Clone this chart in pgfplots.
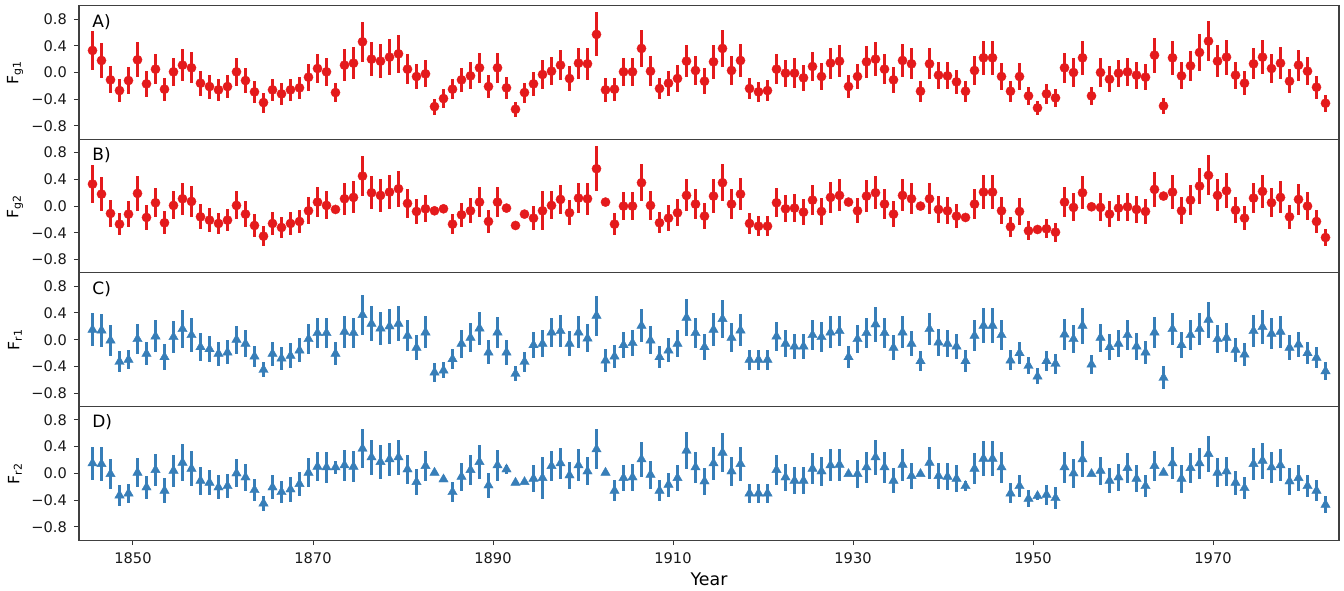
\documentclass[border=0pt]{standalone}
\usepackage{pgfplots}
\pgfplotsset{compat=1.18}
\usepackage{pgfplotstable}
\usepackage{fontspec}
\setmainfont{DejaVu Sans}
\definecolor{cred}{HTML}{E41A1C}
\definecolor{cblue}{HTML}{377EB8}

\pgfplotstableread{
x y e
1845.5 0.33 0.29
1846.5 0.18 0.26
1847.5 -0.11 0.20
1848.5 -0.27 0.17
1849.5 -0.12 0.20
1850.5 0.19 0.26
1851.5 -0.17 0.19
1852.5 0.05 0.22
1853.5 -0.25 0.17
1854.5 0.01 0.21
1855.5 0.11 0.24
1856.5 0.07 0.23
1857.5 -0.16 0.19
1858.5 -0.21 0.18
1859.5 -0.26 0.16
1860.5 -0.21 0.17
1861.5 0.01 0.21
1862.5 -0.12 0.19
1863.5 -0.29 0.17
1864.5 -0.45 0.15
1865.5 -0.26 0.17
1866.5 -0.32 0.16
1867.5 -0.26 0.17
1868.5 -0.23 0.17
1869.5 -0.07 0.20
1870.5 0.06 0.22
1871.5 0.01 0.21
1872.5 -0.30 0.14
1873.5 0.11 0.24
1874.5 0.14 0.24
1875.5 0.46 0.30
1876.5 0.20 0.25
1877.5 0.17 0.25
1878.5 0.23 0.27
1879.5 0.28 0.28
1880.5 0.05 0.22
1881.5 -0.06 0.19
1882.5 -0.02 0.20
1883.5 -0.51 0.12
1884.5 -0.39 0.14
1885.5 -0.25 0.15
1886.5 -0.11 0.18
1887.5 -0.05 0.20
1888.5 0.07 0.22
1889.5 -0.21 0.17
1890.5 0.07 0.22
1891.5 -0.23 0.16
1892.5 -0.55 0.11
1893.5 -0.30 0.15
1894.5 -0.17 0.18
1895.5 -0.03 0.21
1896.5 0.02 0.21
1897.5 0.11 0.22
1898.5 -0.09 0.19
1899.5 0.14 0.23
1900.5 0.13 0.24
1901.5 0.57 0.33
1902.5 -0.26 0.18
1903.5 -0.25 0.17
1904.5 0.01 0.21
1905.5 0.01 0.21
1906.5 0.36 0.28
1907.5 0.02 0.22
1908.5 -0.24 0.16
1909.5 -0.16 0.19
1910.5 -0.09 0.20
1911.5 0.17 0.24
1912.5 0.03 0.22
1913.5 -0.13 0.19
1914.5 0.16 0.25
1915.5 0.36 0.28
1916.5 0.03 0.22
1917.5 0.18 0.25
1918.5 -0.24 0.16
1919.5 -0.29 0.15
1920.5 -0.27 0.16
1921.5 0.05 0.22
1922.5 -0.01 0.20
1923.5 -0.01 0.22
1924.5 -0.08 0.19
1925.5 0.09 0.22
1926.5 -0.06 0.20
1927.5 0.14 0.23
1928.5 0.17 0.24
1929.5 -0.21 0.17
1930.5 -0.06 0.19
1931.5 0.16 0.24
1932.5 0.20 0.25
1933.5 0.05 0.22
1934.5 -0.11 0.19
1935.5 0.18 0.24
1936.5 0.13 0.23
1937.5 -0.28 0.16
1938.5 0.13 0.23
1939.5 -0.04 0.20
1940.5 -0.05 0.20
1941.5 -0.14 0.18
1942.5 -0.28 0.16
1943.5 0.03 0.22
1944.5 0.22 0.25
1945.5 0.22 0.25
1946.5 -0.06 0.20
1947.5 -0.28 0.16
1948.5 -0.06 0.20
1949.5 -0.35 0.14
1950.5 -0.53 0.11
1951.5 -0.32 0.15
1952.5 -0.38 0.14
1953.5 0.07 0.22
1954.5 0.00 0.21
1955.5 0.22 0.25
1956.5 -0.35 0.14
1957.5 0.00 0.21
1958.5 -0.10 0.19
1959.5 -0.01 0.20
1960.5 0.01 0.21
1961.5 -0.04 0.20
1962.5 -0.07 0.19
1963.5 0.26 0.26
1964.5 -0.50 0.12
1965.5 0.22 0.25
1966.5 -0.05 0.20
1967.5 0.10 0.22
1968.5 0.30 0.27
1969.5 0.47 0.30
1970.5 0.17 0.24
1971.5 0.23 0.26
1972.5 -0.04 0.20
1973.5 -0.16 0.18
1974.5 0.13 0.23
1975.5 0.23 0.25
1976.5 0.06 0.22
1977.5 0.14 0.24
1978.5 -0.13 0.18
1979.5 0.11 0.23
1980.5 0.02 0.21
1981.5 -0.22 0.17
1982.5 -0.46 0.13
}\tabA

\pgfplotstableread{
x y e
1845.5 0.33 0.29
1846.5 0.18 0.26
1847.5 -0.11 0.20
1848.5 -0.27 0.17
1849.5 -0.12 0.20
1850.5 0.19 0.26
1851.5 -0.17 0.19
1852.5 0.05 0.22
1853.5 -0.25 0.17
1854.5 0.01 0.21
1855.5 0.11 0.24
1856.5 0.07 0.23
1857.5 -0.16 0.19
1858.5 -0.21 0.18
1859.5 -0.26 0.16
1860.5 -0.21 0.17
1861.5 0.01 0.21
1862.5 -0.12 0.19
1863.5 -0.29 0.17
1864.5 -0.45 0.15
1865.5 -0.26 0.17
1866.5 -0.32 0.16
1867.5 -0.26 0.17
1868.5 -0.23 0.17
1869.5 -0.07 0.20
1870.5 0.06 0.22
1871.5 0.01 0.21
1872.5 -0.05 0
1873.5 0.11 0.24
1874.5 0.13 0.24
1875.5 0.45 0.30
1876.5 0.20 0.25
1877.5 0.16 0.25
1878.5 0.21 0.26
1879.5 0.26 0.27
1880.5 0.04 0.22
1881.5 -0.08 0.19
1882.5 -0.04 0.20
1883.5 -0.07 0
1884.5 -0.04 0
1885.5 -0.27 0.15
1886.5 -0.13 0.18
1887.5 -0.07 0.19
1888.5 0.06 0.22
1889.5 -0.23 0.17
1890.5 0.06 0.22
1891.5 -0.03 0
1892.5 -0.29 0
1893.5 -0.12 0
1894.5 -0.18 0.18
1895.5 -0.07 0.29
1896.5 0.01 0.21
1897.5 0.10 0.22
1898.5 -0.10 0.19
1899.5 0.12 0.23
1900.5 0.11 0.24
1901.5 0.56 0.34
1902.5 0.06 0
1903.5 -0.27 0.16
1904.5 0.00 0.21
1905.5 0.00 0.21
1906.5 0.35 0.28
1907.5 0.01 0.22
1908.5 -0.25 0.16
1909.5 -0.18 0.19
1910.5 -0.10 0.20
1911.5 0.16 0.24
1912.5 0.03 0.22
1913.5 -0.15 0.19
1914.5 0.15 0.25
1915.5 0.35 0.28
1916.5 0.03 0.22
1917.5 0.18 0.24
1918.5 -0.26 0.16
1919.5 -0.30 0.15
1920.5 -0.30 0.15
1921.5 0.05 0.22
1922.5 -0.04 0.20
1923.5 -0.03 0.21
1924.5 -0.09 0.19
1925.5 0.09 0.22
1926.5 -0.08 0.20
1927.5 0.13 0.23
1928.5 0.16 0.24
1929.5 0.06 0
1930.5 -0.07 0.19
1931.5 0.15 0.24
1932.5 0.20 0.25
1933.5 0.03 0.22
1934.5 -0.12 0.19
1935.5 0.16 0.24
1936.5 0.11 0.23
1937.5 0.00 0
1938.5 0.11 0.23
1939.5 -0.05 0.20
1940.5 -0.07 0.20
1941.5 -0.15 0.18
1942.5 -0.17 0
1943.5 0.03 0.22
1944.5 0.21 0.25
1945.5 0.21 0.25
1946.5 -0.07 0.20
1947.5 -0.31 0.15
1948.5 -0.08 0.20
1949.5 -0.37 0.14
1950.5 -0.35 0
1951.5 -0.34 0.14
1952.5 -0.39 0.14
1953.5 0.06 0.22
1954.5 -0.02 0.21
1955.5 0.20 0.25
1956.5 -0.01 0
1957.5 -0.02 0.21
1958.5 -0.12 0.19
1959.5 -0.03 0.20
1960.5 -0.01 0.21
1961.5 -0.05 0.20
1962.5 -0.08 0.19
1963.5 0.25 0.26
1964.5 0.15 0
1965.5 0.21 0.25
1966.5 -0.07 0.20
1967.5 0.09 0.22
1968.5 0.30 0.27
1969.5 0.46 0.30
1970.5 0.16 0.24
1971.5 0.23 0.26
1972.5 -0.06 0.20
1973.5 -0.18 0.18
1974.5 0.12 0.23
1975.5 0.22 0.25
1976.5 0.05 0.22
1977.5 0.13 0.24
1978.5 -0.16 0.18
1979.5 0.10 0.23
1980.5 0.00 0.21
1981.5 -0.23 0.17
1982.5 -0.47 0.13
}\tabB

\pgfplotstableread{
x y e
1845.5 0.15 0.25
1846.5 0.14 0.25
1847.5 -0.01 0.23
1848.5 -0.33 0.16
1849.5 -0.30 0.14
1850.5 0.01 0.22
1851.5 -0.21 0.17
1852.5 0.05 0.24
1853.5 -0.26 0.19
1854.5 0.04 0.24
1855.5 0.16 0.28
1856.5 0.07 0.26
1857.5 -0.11 0.21
1858.5 -0.14 0.19
1859.5 -0.21 0.18
1860.5 -0.19 0.18
1861.5 0.00 0.21
1862.5 -0.06 0.20
1863.5 -0.25 0.16
1864.5 -0.45 0.11
1865.5 -0.21 0.18
1866.5 -0.28 0.17
1867.5 -0.24 0.19
1868.5 -0.16 0.18
1869.5 0.01 0.22
1870.5 0.10 0.22
1871.5 0.10 0.23
1872.5 -0.21 0.17
1873.5 0.12 0.24
1874.5 0.10 0.23
1875.5 0.37 0.30
1876.5 0.24 0.26
1877.5 0.17 0.25
1878.5 0.20 0.26
1879.5 0.24 0.26
1880.5 0.06 0.23
1881.5 -0.12 0.19
1882.5 0.11 0.24
1883.5 -0.49 0.14
1884.5 -0.46 0.12
1885.5 -0.29 0.15
1886.5 -0.06 0.21
1887.5 0.03 0.22
1888.5 0.17 0.25
1889.5 -0.19 0.18
1890.5 0.11 0.23
1891.5 -0.19 0.19
1892.5 -0.51 0.11
1893.5 -0.33 0.15
1894.5 -0.08 0.19
1895.5 -0.06 0.20
1896.5 0.11 0.22
1897.5 0.13 0.24
1898.5 -0.06 0.19
1899.5 0.11 0.24
1900.5 0.02 0.21
1901.5 0.36 0.30
1902.5 -0.31 0.17
1903.5 -0.25 0.17
1904.5 -0.08 0.19
1905.5 -0.05 0.20
1906.5 0.21 0.25
1907.5 -0.01 0.21
1908.5 -0.26 0.16
1909.5 -0.16 0.18
1910.5 -0.06 0.20
1911.5 0.33 0.28
1912.5 0.10 0.23
1913.5 -0.11 0.20
1914.5 0.15 0.25
1915.5 0.31 0.29
1916.5 0.03 0.22
1917.5 0.14 0.24
1918.5 -0.30 0.15
1919.5 -0.30 0.15
1920.5 -0.30 0.15
1921.5 0.05 0.22
1922.5 -0.06 0.20
1923.5 -0.10 0.19
1924.5 -0.10 0.19
1925.5 0.07 0.23
1926.5 0.04 0.22
1927.5 0.11 0.24
1928.5 0.13 0.23
1929.5 -0.26 0.16
1930.5 0.01 0.21
1931.5 0.10 0.23
1932.5 0.23 0.26
1933.5 0.10 0.23
1934.5 -0.12 0.19
1935.5 0.11 0.24
1936.5 -0.06 0.19
1937.5 -0.32 0.15
1938.5 0.16 0.24
1939.5 -0.04 0.20
1940.5 -0.06 0.20
1941.5 -0.10 0.19
1942.5 -0.32 0.16
1943.5 0.06 0.23
1944.5 0.21 0.26
1945.5 0.21 0.26
1946.5 0.07 0.23
1947.5 -0.31 0.15
1948.5 -0.20 0.17
1949.5 -0.39 0.13
1950.5 -0.55 0.12
1951.5 -0.32 0.15
1952.5 -0.36 0.15
1953.5 0.08 0.23
1954.5 0.01 0.21
1955.5 0.21 0.27
1956.5 -0.37 0.14
1957.5 0.03 0.21
1958.5 -0.11 0.19
1959.5 -0.06 0.20
1960.5 0.07 0.23
1961.5 -0.10 0.20
1962.5 -0.19 0.17
1963.5 0.11 0.23
1964.5 -0.57 0.17
1965.5 0.16 0.24
1966.5 -0.08 0.20
1967.5 0.07 0.23
1968.5 0.16 0.24
1969.5 0.30 0.27
1970.5 0.01 0.21
1971.5 0.03 0.22
1972.5 -0.15 0.18
1973.5 -0.22 0.17
1974.5 0.13 0.24
1975.5 0.19 0.26
1976.5 0.09 0.23
1977.5 0.12 0.24
1978.5 -0.12 0.19
1979.5 -0.07 0.19
1980.5 -0.20 0.17
1981.5 -0.27 0.16
1982.5 -0.47 0.13
}\tabC

\pgfplotstableread{
x y e
1845.5 0.15 0.25
1846.5 0.14 0.25
1847.5 -0.01 0.23
1848.5 -0.33 0.16
1849.5 -0.30 0.14
1850.5 0.01 0.22
1851.5 -0.21 0.17
1852.5 0.05 0.24
1853.5 -0.26 0.19
1854.5 0.04 0.24
1855.5 0.16 0.28
1856.5 0.07 0.26
1857.5 -0.11 0.21
1858.5 -0.14 0.19
1859.5 -0.21 0.18
1860.5 -0.19 0.18
1861.5 0.00 0.21
1862.5 -0.06 0.20
1863.5 -0.25 0.16
1864.5 -0.45 0.11
1865.5 -0.21 0.18
1866.5 -0.28 0.17
1867.5 -0.24 0.19
1868.5 -0.16 0.18
1869.5 0.01 0.22
1870.5 0.10 0.22
1871.5 0.09 0.23
1872.5 0.09 0.10
1873.5 0.12 0.23
1874.5 0.10 0.23
1875.5 0.37 0.29
1876.5 0.24 0.26
1877.5 0.17 0.25
1878.5 0.21 0.25
1879.5 0.24 0.26
1880.5 0.06 0.22
1881.5 -0.13 0.19
1882.5 0.11 0.23
1883.5 0.01 0
1884.5 -0.09 0
1885.5 -0.28 0.15
1886.5 -0.05 0.21
1887.5 0.05 0.22
1888.5 0.17 0.25
1889.5 -0.18 0.19
1890.5 0.12 0.23
1891.5 0.06 0.07
1892.5 -0.14 0
1893.5 -0.13 0
1894.5 -0.08 0.20
1895.5 -0.07 0.31
1896.5 0.11 0.22
1897.5 0.15 0.23
1898.5 -0.03 0.20
1899.5 0.12 0.24
1900.5 0.03 0.21
1901.5 0.36 0.30
1902.5 0.01 0
1903.5 -0.26 0.16
1904.5 -0.07 0.20
1905.5 -0.06 0.20
1906.5 0.21 0.26
1907.5 -0.02 0.21
1908.5 -0.26 0.16
1909.5 -0.17 0.18
1910.5 -0.07 0.20
1911.5 0.34 0.28
1912.5 0.09 0.23
1913.5 -0.12 0.20
1914.5 0.15 0.25
1915.5 0.31 0.29
1916.5 0.03 0.22
1917.5 0.14 0.25
1918.5 -0.30 0.14
1919.5 -0.30 0.14
1920.5 -0.30 0.14
1921.5 0.05 0.22
1922.5 -0.06 0.20
1923.5 -0.11 0.20
1924.5 -0.11 0.20
1925.5 0.07 0.23
1926.5 0.03 0.22
1927.5 0.12 0.24
1928.5 0.13 0.24
1929.5 -0.01 0
1930.5 -0.01 0.21
1931.5 0.09 0.23
1932.5 0.24 0.26
1933.5 0.09 0.23
1934.5 -0.11 0.19
1935.5 0.13 0.24
1936.5 -0.04 0.20
1937.5 -0.01 0
1938.5 0.16 0.24
1939.5 -0.04 0.20
1940.5 -0.05 0.20
1941.5 -0.08 0.20
1942.5 -0.19 0.07
1943.5 0.07 0.23
1944.5 0.22 0.26
1945.5 0.22 0.26
1946.5 0.09 0.23
1947.5 -0.30 0.15
1948.5 -0.19 0.17
1949.5 -0.38 0.13
1950.5 -0.34 0.06
1951.5 -0.32 0.15
1952.5 -0.37 0.16
1953.5 0.09 0.23
1954.5 0.00 0.22
1955.5 0.21 0.27
1956.5 -0.01 0
1957.5 0.04 0.21
1958.5 -0.11 0.19
1959.5 -0.06 0.20
1960.5 0.08 0.22
1961.5 -0.08 0.20
1962.5 -0.19 0.17
1963.5 0.11 0.23
1964.5 0.01 0
1965.5 0.15 0.24
1966.5 -0.08 0.21
1967.5 0.08 0.22
1968.5 0.15 0.23
1969.5 0.29 0.27
1970.5 0.01 0.22
1971.5 0.03 0.22
1972.5 -0.14 0.18
1973.5 -0.22 0.17
1974.5 0.14 0.24
1975.5 0.19 0.27
1976.5 0.09 0.23
1977.5 0.12 0.24
1978.5 -0.12 0.20
1979.5 -0.07 0.20
1980.5 -0.19 0.17
1981.5 -0.26 0.16
1982.5 -0.47 0.13
}\tabD

\tikzset{plabel/.style={anchor=north west, inner sep=0pt, font=\fontsize{8.5}{10}\selectfont, xshift=6.5pt, yshift=-4pt}}

\pgfplotsset{
  panel/.style={
    scale only axis, width=630pt, height=66.8pt,
    xmin=1844, xmax=1984, ymin=-1, ymax=1,
    ytick={-0.8,-0.4,0,0.4,0.8},
    yticklabels={−0.8,−0.4,0.0,0.4,0.8},
    ytick pos=left,
    xtick={1850,1870,1890,1910,1930,1950,1970},
    xtick pos=bottom,
    tick align=outside,
    major tick length=2.5pt,
    axis line style={color=black!75, line width=0.55pt},
    tick style={color=black!80, line width=0.5pt},
    ticklabel style={font=\fontsize{7.3}{8.5}\selectfont, color=black!90},
    every axis y label/.style={at={(axis description cs:0,0.5)}, xshift=-32pt,
      rotate=90, anchor=center, font=\fontsize{7.8}{9}\selectfont},
    clip=false,
  },
  redpts/.style={only marks, mark=*, mark size=2.3pt, color=cred,
    mark options={draw=cred, fill=cred, line width=0.2pt},
    error bars/.cd, y dir=both, y explicit, error mark=none,
    error bar style={line width=1.1pt, color=cred}},
  bluepts/.style={only marks, mark=triangle*, mark size=2.7pt, color=cblue,
    mark options={draw=cblue, fill=cblue, line width=0.2pt},
    error bars/.cd, y dir=both, y explicit, error mark=none,
    error bar style={line width=1.1pt, color=cblue}},
}

\begin{document}
\begin{tikzpicture}
\begin{axis}[panel, name=A, xticklabels={}, xtick=\empty, ylabel={F\textsubscript{g1}}]
\addplot[redpts] table[x=x, y=y, y error=e] {\tabA};
\node[plabel] at (rel axis cs:0,1) {A)};
\end{axis}
\begin{axis}[panel, name=B, at={(A.south west)}, anchor=north west, xticklabels={}, xtick=\empty, ylabel={F\textsubscript{g2}}]
\addplot[redpts] table[x=x, y=y, y error=e] {\tabB};
\node[plabel] at (rel axis cs:0,1) {B)};
\end{axis}
\begin{axis}[panel, name=C, at={(B.south west)}, anchor=north west, xticklabels={}, xtick=\empty, ylabel={F\textsubscript{r1}}]
\addplot[bluepts] table[x=x, y=y, y error=e] {\tabC};
\node[plabel] at (rel axis cs:0,1) {C)};
\end{axis}
\begin{axis}[panel, name=D, at={(C.south west)}, anchor=north west,
  xticklabels={1850,1870,1890,1910,1930,1950,1970},
  ylabel={F\textsubscript{r2}}, xlabel={Year},
  xlabel style={font=\fontsize{8.7}{10}\selectfont, yshift=2pt}]
\addplot[bluepts] table[x=x, y=y, y error=e] {\tabD};
\node[plabel] at (rel axis cs:0,1) {D)};
\end{axis}
\pgfresetboundingbox
\path[use as bounding box] ([xshift=-39.5pt, yshift=2.85pt]A.north west) rectangle ([xshift=2.5pt, yshift=-25pt]D.south east);
\end{tikzpicture}
\end{document}
